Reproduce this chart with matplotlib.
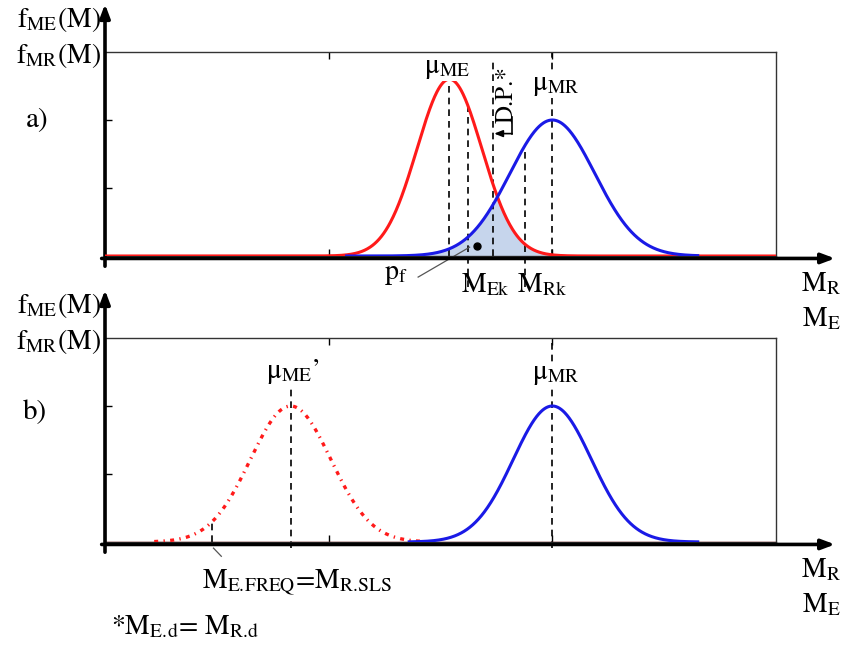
import numpy as np
import matplotlib.pyplot as plt

plt.rcParams['font.family'] = 'STIXGeneral'
plt.rcParams['mathtext.fontset'] = 'stix'
plt.rcParams['mathtext.default'] = 'regular'

# moment axis (arbitrary units) and density scale
x_lim = (0, 30)
y_lim = (0, 3)
x_ticks = [10, 20]
y_ticks = [1, 2]

# a) action effects vs resistance
mu_E_a, sig_E_a, peak_E_a = 15.4, 1.45, 2.6
mu_R, sig_R, peak_R = 20.0, 1.9, 2.0
blue_a_span = (10.8, 26.5)
M_Ek = 16.25
M_DP = 17.35
M_Rk = 18.8
pf_dot = (16.65, 0.15)

# b) frequent action effects vs resistance at SLS
mu_E_b, sig_E_b, peak_E_b = 8.3, 1.8, 2.0
mu_R_b, sig_R_b, peak_R_b = 20.0, 1.75, 2.0
red_b_span = (2.2, 14.2)
blue_b_span = (13.6, 26.5)
M_freq = 4.8


def bell(x, mu, sig, peak):
    return peak * np.exp(-0.5 * ((x - mu) / sig) ** 2)


W, H = 842, 648
fig = plt.figure(figsize=(W / 100, H / 100), dpi=100)


def fpos(px, py):
    return px / W, 1 - py / H


def make_axes(top_px):
    ax = fig.add_axes([105 / W, 1 - (top_px + 204) / H, 671 / W, 204 / H])
    ax.set_xlim(*x_lim)
    ax.set_ylim(*y_lim)
    ax.set_xticks(x_ticks)
    ax.set_yticks(y_ticks)
    ax.set_xticklabels([])
    ax.set_yticklabels([])
    ax.tick_params(direction='in', length=5, width=1, top=True, right=False)
    for s in ax.spines.values():
        s.set_linewidth(1)
        s.set_color('#333333')
    # thick axis arrows
    ax.annotate('', xy=(1.088, -0.012), xytext=(-0.005, -0.012), xycoords='axes fraction',
                arrowprops=dict(arrowstyle='-|>,head_length=0.8,head_width=0.3',
                                lw=2.6, color='black', shrinkA=0, shrinkB=0))
    ax.annotate('', xy=(0, 1.235), xytext=(0, -0.05), xycoords='axes fraction',
                arrowprops=dict(arrowstyle='-|>,head_length=0.8,head_width=0.3',
                                lw=2.6, color='black', shrinkA=0, shrinkB=0))
    return ax


dash = dict(color='black', lw=1.2, ls=(0, (4, 3)), clip_on=False)
fs = 20
lab = dict(fontsize=fs, ha='center', va='center')
white = dict(fc='white', ec='none', pad=0)

# ---------------- panel a ----------------
ax1 = make_axes(52)
x = np.linspace(*x_lim, 1200)
red_a = bell(x, mu_E_a, sig_E_a, peak_E_a)
xb = np.linspace(*blue_a_span, 800)
blue_a = bell(xb, mu_R, sig_R, peak_R)

overlap = np.minimum(bell(xb, mu_E_a, sig_E_a, peak_E_a), blue_a)
ax1.fill_between(xb, 0, overlap, color='#c6d5ec', zorder=1)
ax1.plot(x, red_a, color='#ff1a1a', lw=2.2, zorder=3)
ax1.plot(xb, blue_a, color='#1a1ae6', lw=2.2, zorder=3)

ax1.plot([mu_E_a, mu_E_a], [0, bell(mu_E_a, mu_E_a, sig_E_a, peak_E_a)], **dash)
ax1.plot([M_Ek, M_Ek], [-0.45, bell(M_Ek, mu_E_a, sig_E_a, peak_E_a)], **dash)
ax1.plot([M_Rk, M_Rk], [-0.45, bell(M_Rk, mu_R, sig_R, peak_R)], **dash)
ax1.plot([M_DP, M_DP], [0, 2.9], **dash)
ax1.plot([mu_R, mu_R], [0, 3.0], **dash)

ax1.plot(*pf_dot, 'o', color='black', ms=5, zorder=5)
ax1.plot([14.0, 16.3], [-0.31, 0.13], color='#555555', lw=0.9, clip_on=False)

ax1.text(mu_E_a - 0.1, 2.76, r'$μ_{ME}$', bbox=white, zorder=4, **lab)
ax1.text(mu_R + 0.15, 2.51, r'$μ_{MR}$', bbox=white, zorder=4, **lab)
ax1.text(M_Ek + 0.75, -0.42, r'$M_{Ek}$', **lab)
ax1.text(M_Rk + 0.75, -0.42, r'$M_{Rk}$', **lab)
ax1.text(13.0, -0.27, r'$p_{f}$', **lab)
ax1.text(17.95, 2.38, 'D.P.*', rotation=90, fontsize=18, ha='center', va='center')
ax1.plot([18.2, 18.2], [2.04, 1.8], color='black', lw=1.2, clip_on=False)
ax1.annotate('', xy=(M_DP + 0.05, 1.8), xytext=(18.2, 1.8),
             arrowprops=dict(arrowstyle='-|>,head_length=0.5,head_width=0.2',
                             lw=1.2, color='black', shrinkA=0, shrinkB=0))

# ---------------- panel b ----------------
ax2 = make_axes(338)
ax2.plot(x_lim, [0, 0], color='#b02020', lw=1, zorder=2)
xr = np.linspace(*red_b_span, 800)
ax2.plot(xr, bell(xr, mu_E_b, sig_E_b, peak_E_b), color='#ff1a1a', lw=2.4,
         ls=(0, (1.2, 1.6, 0.4, 1.6)), zorder=3)
xb2 = np.linspace(*blue_b_span, 800)
ax2.plot(xb2, bell(xb2, mu_R_b, sig_R_b, peak_R_b), color='#1a1ae6', lw=2.2, zorder=3)

ax2.plot([mu_E_b, mu_E_b], [-0.09, 2.3], **dash)
ax2.plot([mu_R_b, mu_R_b], [-0.09, 3.0], **dash)
ax2.plot([M_freq, M_freq], [0, bell(M_freq, mu_E_b, sig_E_b, peak_E_b)], **dash)
ax2.plot([M_freq + 0.05, M_freq + 0.4], [-0.09, -0.21], color='#555555', lw=0.9, clip_on=False)

ax2.text(mu_E_b + 0.1, 2.5, r"$μ_{ME}$’", **lab)
ax2.text(mu_R_b + 0.15, 2.46, r'$μ_{MR}$', bbox=white, zorder=4, **lab)
ax2.text(8.6, -0.6, r'$M_{E.\!FREQ}$=$M_{R.\!SLS}$', **lab)
ax2.text(3.6, -1.25, r'*$M_{E.\!d}$= $M_{R.\!d}$', **lab)

# axis titles
for top in (0, 286):
    fig.text(*fpos(101, 20 + top), r'$f_{ME}(M)$', fontsize=fs, ha='right', va='center')
    fig.text(*fpos(101, 56 + top), r'$f_{MR}(M)$', fontsize=fs, ha='right', va='center')
    fig.text(*fpos(821, 284 + top), r'$M_{R}$', fontsize=fs, ha='center', va='center')
    fig.text(*fpos(821, 319 + top), r'$M_{E}$', fontsize=fs, ha='center', va='center')
fig.text(*fpos(37, 120), 'a)', fontsize=21, ha='center', va='center')
fig.text(*fpos(35, 412), 'b)', fontsize=21, ha='center', va='center')

fig.savefig('out.png', dpi=100)
